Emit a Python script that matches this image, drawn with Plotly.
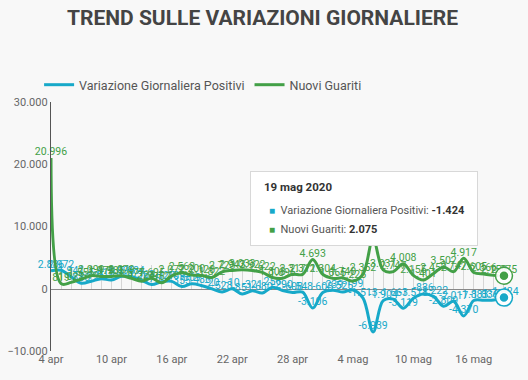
import pandas as pd
import plotly.graph_objects as go

# ---------------- data ----------------
dates = pd.date_range("2020-04-04", "2020-05-19", freq="D")

variazione_positivi = [
    2886, 2972, 1941, 880, 1195, 1615, 1396, 1996, 1984, 1363,
    675, 1127, 1189, 355, 809, 486, -20, -528, -10, -851,
    -321, -680, 256, -290, -608, -548, -3106,
    -608, -239, -525, -199, -1513, -6939, -1904, -1663, -3119, -1518,
    -836, -1222, -2809, -2017, -4370, -1883, -1836, -1798, -1424,
]
nuovi_guariti = [
    20996, 819, 1022, 1555, 2099, 1979, 1985, 2079, 1677, 1224,
    1695, 962, 2072, 2563, 2200, 2128, 1822, 2723, 2943, 3033,
    2922, 2622, 1808, 1696, 2317, 2311, 4693,
    2304, 1665, 1740, 1225, 2352, 8014, 3031, 2747, 4008, 2155,
    1401, 2452, 3502, 2747, 4917, 2605, 2366, 2150, 2075,
]
series_names = ["Variazione Giornaliera Positivi", "Nuovi Guariti"]
x_tick_labels = ["4 apr", "10 apr", "16 apr", "22 apr", "28 apr", "4 mag", "10 mag", "16 mag"]
y_tick_values = [-10000, 0, 10000, 20000, 30000]
tooltip_date = "19 mag 2020"
title_text = "TREND SULLE VARIAZIONI GIORNALIERE"

# ---------------- style ----------------
BLUE = "#17a9c9"
GREEN = "#43a047"
BG = "#f8f8f8"
FONT = "Roboto"


def it_num(v):
    return f"{v:,}".replace(",", ".")


fig = go.Figure()

for name, vals, col in [(series_names[0], variazione_positivi, BLUE),
                        (series_names[1], nuovi_guariti, GREEN)]:
    fig.add_trace(go.Scatter(
        x=dates, y=vals, name=name, mode="lines+text",
        line=dict(color=col, width=3, shape="spline", smoothing=1.0),
        text=[it_num(v) for v in vals], textposition="top center",
        textfont=dict(family=FONT, size=10.5, color=col),
        cliponaxis=False, hoverinfo="skip",
    ))

# highlighted last points (hover state)
for vals, col in [(variazione_positivi, BLUE), (nuovi_guariti, GREEN)]:
    fig.add_trace(go.Scatter(
        x=[dates[-1]], y=[vals[-1]], mode="markers", showlegend=False,
        marker=dict(size=17, color="rgba(255,255,255,0.9)", line=dict(color=col, width=1.5)),
        hoverinfo="skip", cliponaxis=False,
    ))
    fig.add_trace(go.Scatter(
        x=[dates[-1]], y=[vals[-1]], mode="markers", showlegend=False,
        marker=dict(size=10, color=col, line=dict(color="white", width=1.5)),
        hoverinfo="skip", cliponaxis=False,
    ))

# invisible trace to hold the zero-line axis with day ticks
fig.add_trace(go.Scatter(x=dates, y=[None] * len(dates), xaxis="x2",
                         showlegend=False, hoverinfo="skip"))

tickvals = [dates[i] for i in range(0, len(dates), 6)][:len(x_tick_labels)]

fig.update_layout(
    width=528, height=380,
    paper_bgcolor=BG, plot_bgcolor=BG,
    separators=",.",
    margin=dict(l=51, r=19, t=102, b=29, autoexpand=False),
    font=dict(family=FONT, color="#555"),
    title=dict(text=f"<b>{title_text}</b>", x=262.5 / 528, xanchor="center",
               y=1 - 18 / 380, yanchor="middle",
               font=dict(family=FONT, size=21, color="#444")),
    showlegend=True,
    legend=dict(orientation="h", x=-0.026, xanchor="left", y=1.068, yanchor="middle",
                font=dict(family=FONT, size=12.5, color="#555"),
                bgcolor="rgba(0,0,0,0)"),
    hovermode=False,
    xaxis=dict(range=[dates[0], dates[-1] + pd.Timedelta(hours=12)],
               tickvals=tickvals, ticktext=x_tick_labels,
               showgrid=False, zeroline=False, showline=False, ticks="",
               tickfont=dict(family=FONT, size=11, color="#666")),
    xaxis2=dict(overlaying="x", matches="x", anchor="free", position=0.25,
                showticklabels=False, showgrid=False, zeroline=False,
                showline=True, linecolor="#888", linewidth=1,
                ticks="inside", ticklen=24, tickcolor="#d6d6d6", tickwidth=1,
                tick0=dates[0], dtick=86400000, layer="below traces"),
    yaxis=dict(range=[-10000, 30000], tickvals=y_tick_values, tickformat=",d",
               showgrid=False, zeroline=False, showline=True, linecolor="#555",
               linewidth=1.2, ticks="",
               tickfont=dict(family=FONT, size=11, color="#666")),
)

# tooltip box emulating the hover state for the last date
px_to_x = lambda px: (px - 51) / 458
px_to_y = lambda py: (351 - py) / 249
fig.add_annotation(xref="paper", yref="paper", x=px_to_x(250), y=px_to_y(171),
                   xanchor="left", yanchor="top", text=" ", showarrow=False,
                   width=226, height=73, bgcolor="white", bordercolor="#d8d8d8",
                   borderwidth=1, borderpad=0)
fig.add_annotation(xref="paper", yref="paper", x=px_to_x(262), y=px_to_y(187),
                   xanchor="left", yanchor="middle", showarrow=False,
                   text=f"<b>{tooltip_date}</b>",
                   font=dict(family=FONT, size=11.5, color="#333"))
for py, name, vals, col in [(210, series_names[0], variazione_positivi, BLUE),
                            (229, series_names[1], nuovi_guariti, GREEN)]:
    fig.add_annotation(xref="paper", yref="paper", x=px_to_x(267), y=px_to_y(py),
                       xanchor="left", yanchor="middle", showarrow=False,
                       text=(f"<span style='color:{col};font-size:10px'>■</span>  "
                             f"{name}: <b style='color:#333'>{it_num(vals[-1])}</b>"),
                       font=dict(family=FONT, size=11, color="#555"))

fig.write_html("out.html",
               config={"displayModeBar": False, "staticPlot": True},
               post_script="document.body.style.margin='0';document.body.style.overflow='hidden';")
